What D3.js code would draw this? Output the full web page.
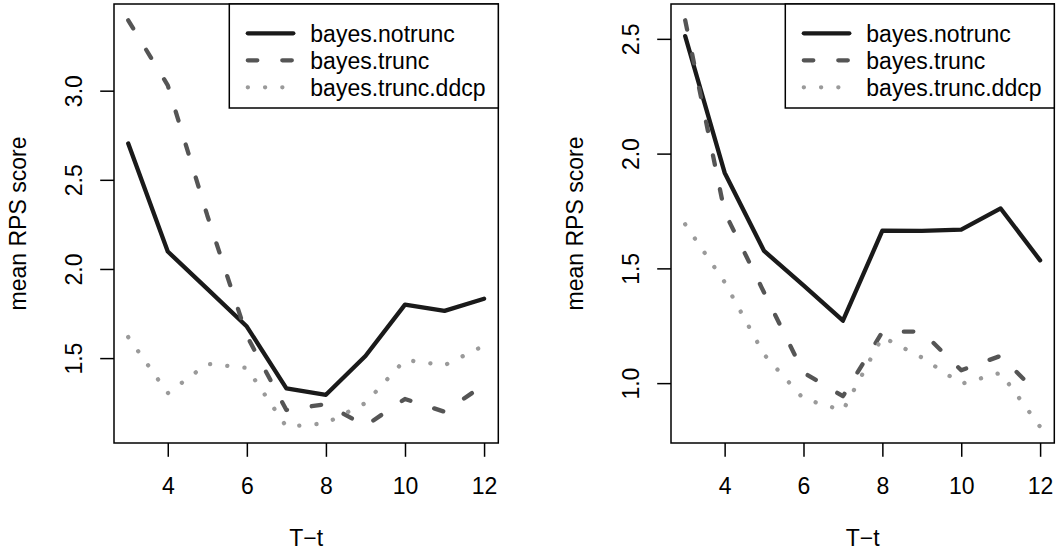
<!DOCTYPE html>
<html><head><meta charset="utf-8">
<script src="https://cdn.jsdelivr.net/npm/d3@7"></script>
<style>
body{margin:0;background:#fff}
svg text{font-family:"Liberation Sans",Arial,Helvetica,sans-serif}
</style>
</head><body>
<svg id="chart" width="1056" height="553"></svg>
<script>
// ---- data ----
const horizon = [3, 4, 5, 6, 7, 8, 9, 10, 11, 12];
const seriesNames = ["bayes.notrunc", "bayes.trunc", "bayes.trunc.ddcp"];

const leftNotrunc = [2.704, 2.098, 1.888, 1.677, 1.330, 1.294, 1.512, 1.800, 1.765, 1.833];
const leftTrunc   = [3.395, 3.030, 2.300, 1.625, 1.209, 1.242, 1.120, 1.271, 1.199, 1.350];
const leftDdcp    = [1.618, 1.303, 1.468, 1.445, 1.115, 1.135, 1.248, 1.490, 1.460, 1.570];

const rightNotrunc = [2.512, 1.917, 1.576, 1.426, 1.272, 1.664, 1.663, 1.669, 1.761, 1.535];
const rightTrunc   = [2.581, 1.745, 1.395, 1.046, 0.943, 1.223, 1.225, 1.056, 1.119, 0.945];
const rightDdcp    = [1.692, 1.440, 1.125, 0.932, 0.881, 1.201, 1.112, 0.997, 1.045, 0.810];

const xTicks = [4, 6, 8, 10, 12];
const leftYTicks = [1.5, 2.0, 2.5, 3.0];
const rightYTicks = [1.0, 1.5, 2.0, 2.5];
const xLabel = "T\u2212t";
const yLabel = "mean RPS score";

// ---- styles ----
const styles = [
  {color: "#1a1a1a", dash: null},
  {color: "#555555", dash: "9.5,25"},
  {color: "#9a9a9a", dash: "0.1,17.15"}
];
const LW = 4.3, FS = 23, TICK = 13.8;

const svg = d3.select("#chart");

function drawPanel(box, seriesVals, yTicks) {
  const g = svg.append("g");
  const xe = d3.extent(horizon), xp = (xe[1] - xe[0]) * 0.04;
  const x = d3.scaleLinear().domain([xe[0] - xp, xe[1] + xp]).range([box.x0, box.x1]);
  const ye = d3.extent(seriesVals.flat()), yp = (ye[1] - ye[0]) * 0.04;
  const y = d3.scaleLinear().domain([ye[0] - yp, ye[1] + yp]).range([box.y1, box.y0]);

  // series
  const line = d3.line().x((d, i) => x(horizon[i])).y(d => y(d));
  seriesVals.forEach((vals, k) => {
    g.append("path").datum(vals)
      .attr("d", line)
      .attr("fill", "none")
      .attr("stroke", styles[k].color)
      .attr("stroke-width", LW)
      .attr("stroke-linecap", "round")
      .attr("stroke-linejoin", "round")
      .attr("stroke-dasharray", styles[k].dash);
  });

  // x axis
  const ax = g.append("g").attr("transform", `translate(0,${box.y1})`)
    .call(d3.axisBottom(x).tickValues(xTicks).tickSize(TICK).tickSizeOuter(0).tickFormat(d3.format("d")));
  ax.select(".domain").remove();
  ax.attr("font-size", FS).attr("font-family", null).attr("color", "#000");
  ax.selectAll(".tick line").attr("stroke-width", 1.5);
  ax.selectAll(".tick text").attr("y", 51).attr("dy", null).attr("fill", "#000");

  // y axis
  const ay = g.append("g").attr("transform", `translate(${box.x0},0)`)
    .call(d3.axisLeft(y).tickValues(yTicks).tickSize(TICK).tickSizeOuter(0).tickFormat(d3.format(".1f")));
  ay.select(".domain").remove();
  ay.attr("font-size", FS).attr("font-family", null).attr("color", "#000");
  ay.selectAll(".tick line").attr("stroke-width", 1.5);
  ay.selectAll(".tick text")
    .attr("x", null).attr("dy", null)
    .attr("text-anchor", "middle")
    .attr("transform", "translate(-32.5,0) rotate(-90)")
    .attr("fill", "#000");

  // box
  g.append("rect")
    .attr("x", box.x0).attr("y", box.y0)
    .attr("width", box.x1 - box.x0).attr("height", box.y1 - box.y0)
    .attr("fill", "none").attr("stroke", "#000").attr("stroke-width", 1.5);

  // axis titles
  const cx = (box.x0 + box.x1) / 2, cy = (box.y0 + box.y1) / 2;
  g.append("text").attr("x", cx).attr("y", 546).attr("text-anchor", "middle")
    .attr("font-size", FS).text(xLabel);
  g.append("text").attr("transform", `translate(${box.x0 - 88},${cy}) rotate(-90)`)
    .attr("text-anchor", "middle").attr("font-size", FS).text(yLabel);

  // legend
  const lw = 269, lx = box.x1 - lw, ly = box.y0, lh = 104;
  const lg = g.append("g");
  lg.append("rect").attr("x", lx).attr("y", ly).attr("width", lw).attr("height", lh)
    .attr("fill", "#fff").attr("stroke", "#000").attr("stroke-width", 1.5);
  seriesNames.forEach((name, k) => {
    const ry = ly + 29.3 + k * 27;
    lg.append("line")
      .attr("x1", lx + 18.5).attr("x2", lx + 64).attr("y1", ry).attr("y2", ry)
      .attr("stroke", styles[k].color).attr("stroke-width", LW)
      .attr("stroke-linecap", "round").attr("stroke-dasharray", styles[k].dash);
    lg.append("text").attr("x", lx + 81).attr("y", ry + 8.3)
      .attr("font-size", FS).attr("fill", "#000").text(name);
  });
}

drawPanel({x0: 114, x1: 498.3, y0: 4, y1: 443}, [leftNotrunc, leftTrunc, leftDdcp], leftYTicks);
drawPanel({x0: 671, x1: 1054.3, y0: 4, y1: 443}, [rightNotrunc, rightTrunc, rightDdcp], rightYTicks);
</script>
</body></html>
